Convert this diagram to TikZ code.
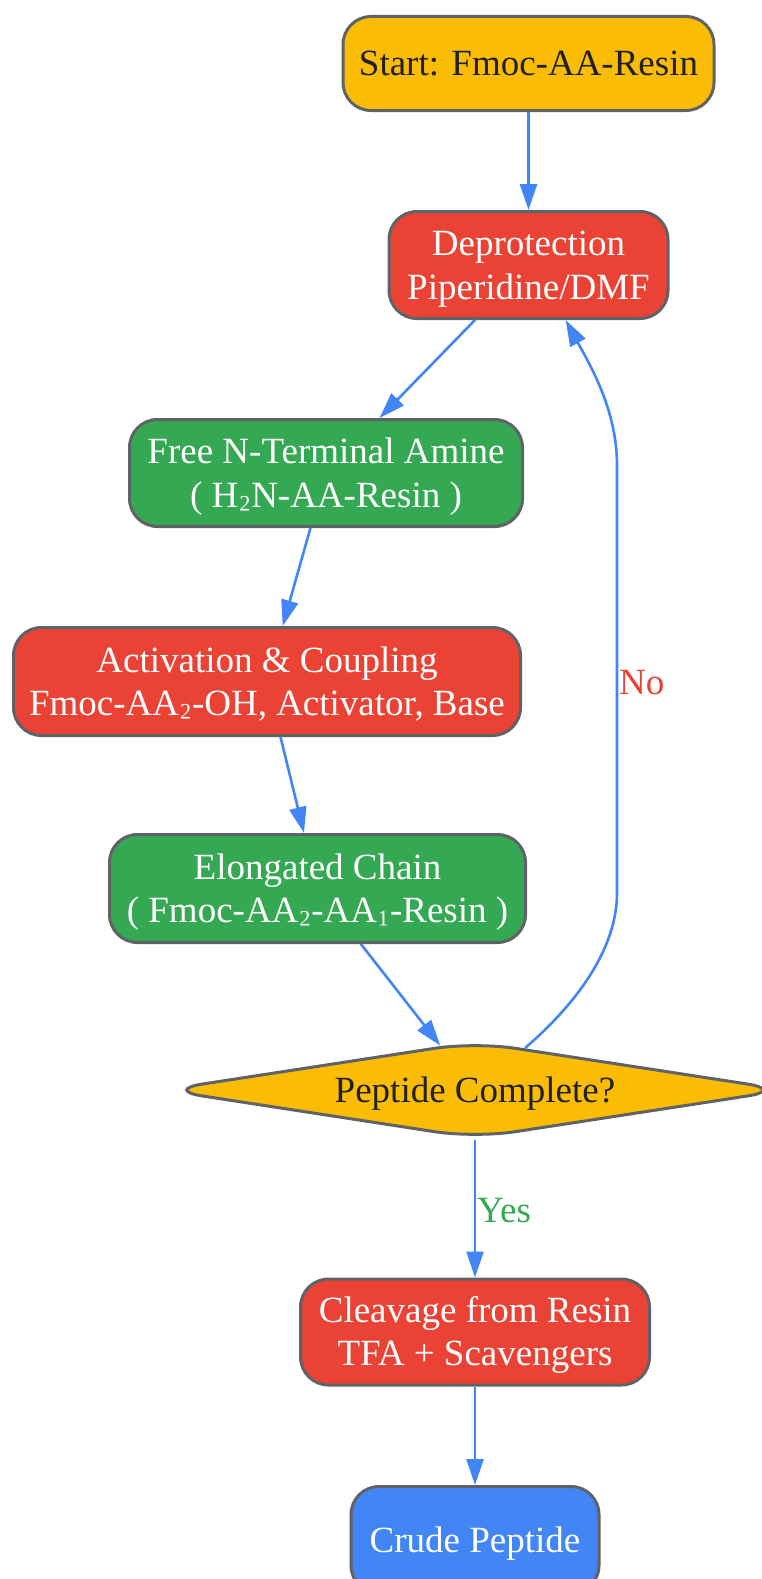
\documentclass[tikz,border=0pt]{standalone}
\usepackage{fontspec}
\setmainfont{Liberation Serif}
\usetikzlibrary{arrows.meta,shapes.geometric}
\definecolor{gyellow}{HTML}{FBBC05}
\definecolor{gred}{HTML}{EA4335}
\definecolor{ggreen}{HTML}{34A853}
\definecolor{gblue}{HTML}{4285F4}
\definecolor{gborder}{HTML}{5F6368}
\definecolor{gdark}{HTML}{202124}
\newcommand\gvs{\rule[-7.9pt]{0pt}{40.3pt}}
\newcommand\subtwo{\raisebox{4pt}{₂}}
\newcommand\subone{\raisebox{4pt}{₁}}
\tikzset{
  box/.style={rectangle, rounded corners=28pt, draw=gborder, line width=3pt,
    inner sep=0pt, align=center, font=\fontsize{37}{43.5}\selectfont},
  ybox/.style={box, fill=gyellow, text=gdark},
  rbox/.style={box, fill=gred, text=white},
  gbox/.style={box, fill=ggreen, text=white},
  bbox/.style={box, fill=gblue, text=white},
  decide/.style={diamond, aspect=6.5, rounded corners=40pt, draw=gborder, line width=3pt,
    fill=gyellow, text=gdark, inner sep=0pt, font=\fontsize{37}{43.5}\selectfont},
  arr/.style={draw=gblue, line width=2.6pt, -{Triangle[length=26pt,width=17pt]}},
  elabel/.style={inner sep=0pt, font=\fontsize{37}{43.5}\selectfont}
}
\begin{document}
\begin{tikzpicture}[x=1pt,y=-1pt]
\useasboundingbox (0,0) rectangle (761,1579);
\node[ybox, minimum width=371pt, minimum height=94pt] (start) at (528.5,63.5) {\gvs Start: Fmoc-AA-Resin};
\node[rbox, minimum width=279pt, minimum height=107pt] (dep) at (528.5,265) {\gvs Deprotection\\\gvs Piperidine/DMF};
\node[gbox, minimum width=393pt, minimum height=107pt] (free) at (326,473) {\gvs Free N-Terminal Amine\\\gvs ( H\subtwo N-AA-Resin )};
\node[rbox, minimum width=507pt, minimum height=108pt] (act) at (267,681.5) {\gvs Activation \& Coupling\\\gvs Fmoc-AA\subtwo-OH, Activator, Base};
\node[gbox, minimum width=416pt, minimum height=108pt] (elong) at (317.5,888.5) {\gvs Elongated Chain\\\gvs ( Fmoc-AA\subtwo-AA\subone-Resin )};
\node[decide, minimum width=624pt, minimum height=97pt] (dia) at (475,1090) {\gvs Peptide Complete?};
\node[rbox, minimum width=349pt, minimum height=106pt] (cleave) at (475,1332) {\gvs Cleavage from Resin\\\gvs TFA + Scavengers};
\node[bbox, minimum width=248pt, minimum height=107pt] (crude) at (475,1540) {\gvs Crude Peptide};

\coordinate (nolow) at (617,893);
\coordinate (nohigh) at (617,465);

\draw[arr] (start) -- (dep);
\draw[arr] (dep) -- (free);
\draw[arr] (free) -- (act);
\draw[arr] (act) -- (elong);
\draw[arr] (elong) -- (dia);
\draw[arr] (dia) -- (cleave);
\draw[arr] (cleave) -- (crude);
\draw[arr] (dia.40) .. controls (575,1005) and (617,950) .. (nolow) -- (nohigh) .. controls (617,410) and (590,365) .. (dep.-56);

\node[elabel, text=gred, anchor=base west] (nolab) at (619,694) {No};
\node[elabel, text=ggreen, anchor=base west] (yeslab) at (477,1222) {Yes};
\end{tikzpicture}
\end{document}
